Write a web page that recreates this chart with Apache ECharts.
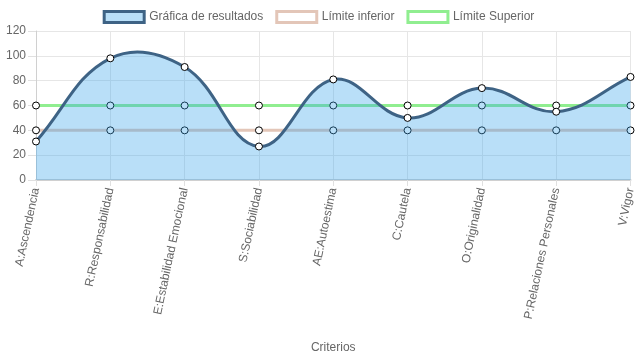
<!DOCTYPE html>
<html><head><meta charset="utf-8">
<script src="https://cdn.jsdelivr.net/npm/echarts@6/dist/echarts.min.js"></script>
<style>html,body{margin:0;padding:0;background:#fff}#c{width:637px;height:359px}</style>
</head><body><div id="c"></div>
<script>
const categories = ["A:Ascendencia","R:Responsabilidad","E:Estabilidad Emocional","S:Sociabilidad","AE:Autoestima","C:Cautela","O:Originalidad","P:Relaciones Personales","V:Vigor"];
const resultados = [31, 98, 91, 27, 81, 50, 74, 55, 83];
const limiteInferior = [40, 40, 40, 40, 40, 40, 40, 40, 40];
const limiteSuperior = [60, 60, 60, 60, 60, 60, 60, 60, 60];
const yTicks = {min: 0, max: 120, interval: 20};

const font = 'Liberation Sans, Arial, Helvetica, sans-serif';
const FILL = 'rgba(54,162,235,0.35)';
const STROKE = '#3e6385';
const TENSION = 0.4;

// Cardinal-style spline (tension 0.4) through points projected by the axes
function curvePaths(pts, baseY) {
  const n = pts.length;
  const cps = pts.map((cur, i) => {
    const prev = i > 0 ? pts[i - 1] : cur;
    const next = i < n - 1 ? pts[i + 1] : cur;
    const d01 = Math.hypot(cur[0] - prev[0], cur[1] - prev[1]);
    const d12 = Math.hypot(next[0] - cur[0], next[1] - cur[1]);
    let s01 = d01 / (d01 + d12), s12 = d12 / (d01 + d12);
    if (isNaN(s01)) s01 = 0; if (isNaN(s12)) s12 = 0;
    const fa = TENSION * s01, fb = TENSION * s12;
    return {
      p: [cur[0] - fa * (next[0] - prev[0]), cur[1] - fa * (next[1] - prev[1])],
      n: [cur[0] + fb * (next[0] - prev[0]), cur[1] + fb * (next[1] - prev[1])]
    };
  });
  let d = 'M' + pts[0][0] + ' ' + pts[0][1];
  for (let i = 1; i < n; i++) {
    d += ' C' + cps[i - 1].n[0] + ' ' + cps[i - 1].n[1] + ' ' + cps[i].p[0] + ' ' + cps[i].p[1] + ' ' + pts[i][0] + ' ' + pts[i][1];
  }
  const area = d + ' L' + pts[n - 1][0] + ' ' + baseY + ' L' + pts[0][0] + ' ' + baseY + ' Z';
  return {line: d, area: area};
}

const chart = echarts.init(document.getElementById('c'), null, {renderer: 'canvas'});
const pointStyle = {color: '#fff', borderColor: '#000', borderWidth: 1};
chart.setOption({
  animation: false,
  textStyle: {fontFamily: font},
  legend: {
    top: 5, left: 'center', itemWidth: 40, itemHeight: 11, itemGap: 12,
    icon: 'rect',
    textStyle: {color: '#666', fontSize: 12, fontFamily: font},
    data: [
      {name: 'Gráfica de resultados', itemStyle: {color: FILL, borderColor: STROKE, borderWidth: 3}},
      {name: 'Límite inferior', itemStyle: {color: '#fff', borderColor: '#e3c6b8', borderWidth: 3}},
      {name: 'Límite Superior', itemStyle: {color: '#fff', borderColor: '#90ee90', borderWidth: 3}}
    ]
  },
  grid: {left: 36, right: 4, top: 31, bottom: 179, containLabel: false},
  xAxis: {
    type: 'category', data: categories, boundaryGap: false,
    name: 'Criterios', nameLocation: 'middle', nameGap: 162,
    nameTextStyle: {color: '#666', fontSize: 12, fontFamily: font},
    axisLine: {show: true, lineStyle: {color: '#d0d0d0', width: 2}},
    axisTick: {show: true, length: 6, lineStyle: {color: '#e0e0e0'}},
    axisLabel: {rotate: 78, color: '#666', fontSize: 12, fontFamily: font, margin: 8},
    splitLine: {show: true, lineStyle: {color: '#e6e6e6'}}
  },
  yAxis: {
    type: 'value', min: yTicks.min, max: yTicks.max, interval: yTicks.interval,
    axisLine: {show: true, lineStyle: {color: '#d0d0d0'}},
    axisTick: {show: true, length: 8, lineStyle: {color: '#e0e0e0'}},
    axisLabel: {color: '#666', fontSize: 12, fontFamily: font, margin: 10},
    splitLine: {show: true, lineStyle: {color: '#e6e6e6'}}
  },
  series: [
    {name: 'Límite inferior', type: 'line', data: limiteInferior, z: 3,
     symbol: 'circle', symbolSize: 7, itemStyle: pointStyle,
     lineStyle: {color: '#e3c6b8', width: 3}},
    {name: 'Límite Superior', type: 'line', data: limiteSuperior, z: 3,
     symbol: 'circle', symbolSize: 7, itemStyle: pointStyle,
     lineStyle: {color: '#90ee90', width: 3}},
    {name: 'curva', type: 'custom', z: 5, silent: true, data: [[0, 0]],
     renderItem: function (params, api) {
       const pts = resultados.map((v, i) => api.coord([i, v]));
       const baseY = api.coord([0, yTicks.min])[1];
       const p = curvePaths(pts, baseY);
       return {type: 'group', children: [
         {type: 'path', shape: {pathData: p.area}, style: {fill: FILL, stroke: null}},
         {type: 'path', shape: {pathData: p.line}, style: {fill: null, stroke: STROKE, lineWidth: 3}}
       ]};
     }},
    {name: 'Gráfica de resultados', type: 'line', data: resultados, z: 6,
     symbol: 'circle', symbolSize: 7, itemStyle: pointStyle,
     lineStyle: {width: 0, opacity: 0}}
  ]
});
</script></body></html>
